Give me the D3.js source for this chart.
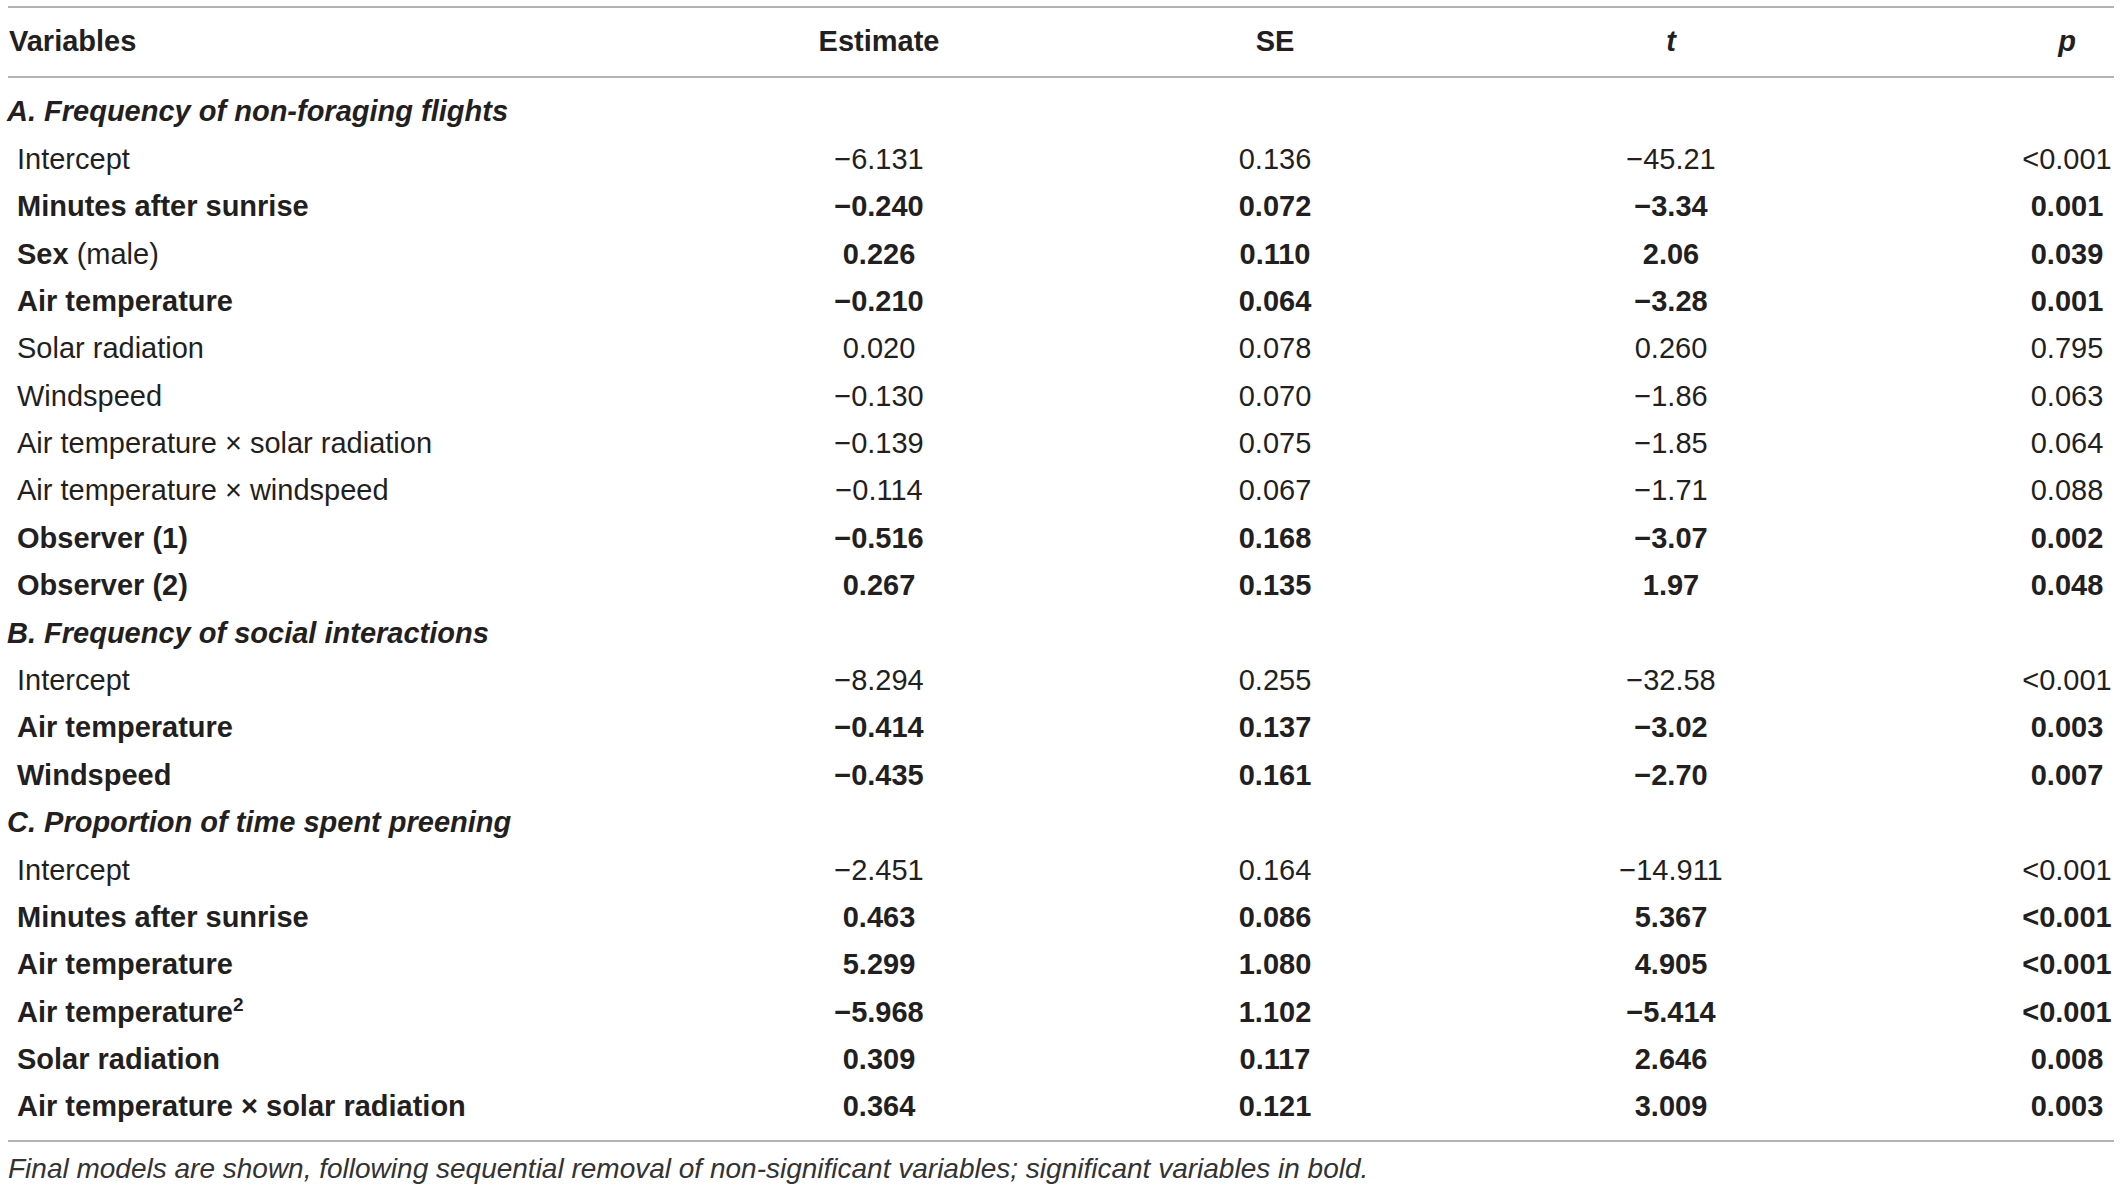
<!DOCTYPE html>
<html>
<head>
<meta charset="utf-8">
<script src="https://cdn.jsdelivr.net/npm/d3@7"></script>
<style>
  html, body { margin: 0; padding: 0; background: #fff; }
  svg { display: block; }
  text { font-family: "Liberation Sans", Arial, sans-serif; fill: #231f20; }
</style>
</head>
<body>
<svg id="table" width="2120" height="1190"></svg>
<script>
// table content
const columns = ["Estimate", "SE", "t", "p"];
const sections = [
    "A. Frequency of non-foraging flights",
    "B. Frequency of social interactions",
    "C. Proportion of time spent preening"
];
// section index of every variable row
const rowSection = [0, 0, 0, 0, 0, 0, 0, 0, 0, 0, 1, 1, 1, 2, 2, 2, 2, 2, 2];
const variables = [
    "Intercept", "Minutes after sunrise", "Sex (male)", "Air temperature", "Solar radiation",
    "Windspeed", "Air temperature × solar radiation", "Air temperature × windspeed",
    "Observer (1)", "Observer (2)",
    "Intercept", "Air temperature", "Windspeed",
    "Intercept", "Minutes after sunrise", "Air temperature", "Air temperature^2",
    "Solar radiation", "Air temperature × solar radiation"
];
const estimates = [
    "−6.131", "−0.240", "0.226", "−0.210", "0.020", "−0.130", "−0.139", "−0.114", "−0.516", "0.267",
    "−8.294", "−0.414", "−0.435",
    "−2.451", "0.463", "5.299", "−5.968", "0.309", "0.364"
];
const stdErrors = [
    "0.136", "0.072", "0.110", "0.064", "0.078", "0.070", "0.075", "0.067", "0.168", "0.135",
    "0.255", "0.137", "0.161",
    "0.164", "0.086", "1.080", "1.102", "0.117", "0.121"
];
const tValues = [
    "−45.21", "−3.34", "2.06", "−3.28", "0.260", "−1.86", "−1.85", "−1.71", "−3.07", "1.97",
    "−32.58", "−3.02", "−2.70",
    "−14.911", "5.367", "4.905", "−5.414", "2.646", "3.009"
];
const pValues = [
    "<0.001", "0.001", "0.039", "0.001", "0.795", "0.063", "0.064", "0.088", "0.002", "0.048",
    "<0.001", "0.003", "0.007",
    "<0.001", "<0.001", "<0.001", "<0.001", "0.008", "0.003"
];
const significant = [
    false, true, true, true, false, false, false, false, true, true,
    false, true, true,
    false, true, true, true, true, true
];
const footnote = "Final models are shown, following sequential removal of non-significant variables; significant variables in bold.";

// flatten into display lines: section headings + variable rows
const lines = [];
rowSection.forEach((s, i) => {
    if (i === 0 || rowSection[i - 1] !== s) lines.push({ type: "section", label: sections[s] });
    lines.push({
        type: "row", label: variables[i], bold: significant[i],
        values: [estimates[i], stdErrors[i], tValues[i], pValues[i]]
    });
});

const svg = d3.select("#table");
const fontSize = 29;

const x = d3.scalePoint()
    .domain(columns)
    .range([879, 2067]);

const y = d3.scalePoint()
    .domain(d3.range(lines.length))
    .range([111, 1106]);

const ruleX = [8, 2114];
const ruleColor = "#b3b3b3";

// rules
[7, 77, 1141].forEach(ry => {
    svg.append("line")
        .attr("x1", ruleX[0]).attr("x2", ruleX[1])
        .attr("y1", ry).attr("y2", ry)
        .attr("stroke", ruleColor)
        .attr("stroke-width", 2);
});

// header
const headY = 41 + fontSize * 0.36;
svg.append("text")
    .attr("x", 9)
    .attr("y", headY)
    .attr("font-size", fontSize)
    .attr("font-weight", "bold")
    .text("Variables");

svg.selectAll("text.colhead")
    .data(columns)
    .join("text")
    .attr("class", "colhead")
    .attr("x", d => x(d))
    .attr("y", headY)
    .attr("text-anchor", "middle")
    .attr("font-size", fontSize)
    .attr("font-weight", "bold")
    .attr("font-style", d => (d === "t" || d === "p") ? "italic" : "normal")
    .text(d => d);

// body
const body = svg.append("g");
lines.forEach((d, i) => {
    const by = y(i) + fontSize * 0.36;
    if (d.type === "section") {
        body.append("text")
            .attr("x", 7)
            .attr("y", by)
            .attr("font-size", fontSize)
            .attr("font-weight", "bold")
            .attr("font-style", "italic")
            .text(d.label);
        return;
    }
    const lab = body.append("text")
        .attr("x", 17)
        .attr("y", by)
        .attr("font-size", fontSize)
        .attr("font-weight", d.bold ? "bold" : "normal");
    if (d.label.endsWith("^2")) {
        lab.append("tspan").text(d.label.slice(0, -2));
        lab.append("tspan").attr("dy", -11).attr("font-size", 19).text("2");
    } else if (d.label.includes(" (male)")) {
        lab.append("tspan").text(d.label.replace(" (male)", ""));
        lab.append("tspan").attr("font-weight", "normal").text(" (male)");
    } else {
        lab.text(d.label);
    }

    body.selectAll(null)
        .data(d.values)
        .join("text")
        .attr("x", (v, j) => x(columns[j]))
        .attr("y", by)
        .attr("text-anchor", "middle")
        .attr("font-size", fontSize)
        .attr("font-weight", d.bold ? "bold" : "normal")
        .text(v => v);
});

// footnote
svg.append("text")
    .attr("x", 8)
    .attr("y", 1168 + 10)
    .attr("font-size", 28)
    .attr("font-style", "italic")
    .style("fill", "#333")
    .text(footnote);
</script>
</body>
</html>
